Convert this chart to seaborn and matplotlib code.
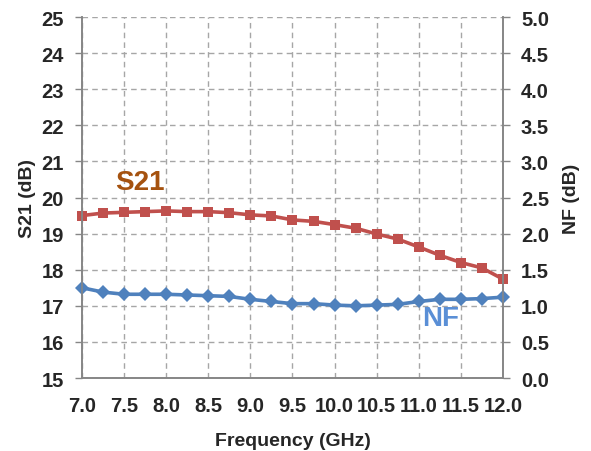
"""S21 and noise figure vs frequency, twin y axes."""

import matplotlib
matplotlib.use("Agg")
import matplotlib.pyplot as plt
import numpy as np
import pandas as pd
import seaborn as sns

# data
freq_ghz = [7.0, 7.25, 7.5, 7.75, 8.0, 8.25, 8.5, 8.75, 9.0, 9.25, 9.5,
            9.75, 10.0, 10.25, 10.5, 10.75, 11.0, 11.25, 11.5, 11.75, 12.0]
s21_db = [19.50, 19.57, 19.59, 19.61, 19.63, 19.61, 19.61, 19.58, 19.52, 19.49, 19.38,
          19.34, 19.25, 19.15, 18.99, 18.85, 18.63, 18.40, 18.20, 18.05, 17.74]
nf_db = [1.25, 1.19, 1.16, 1.16, 1.16, 1.15, 1.14, 1.13, 1.09, 1.06, 1.03,
         1.03, 1.01, 1.00, 1.01, 1.02, 1.06, 1.09, 1.09, 1.10, 1.12]

x_ticks = np.arange(7.0, 12.01, 0.5)
s21_ticks = np.arange(15, 26, 1)
nf_ticks = np.arange(0.0, 5.01, 0.5)

S21_COLOR = "#C0504D"
NF_COLOR = "#4F81BD"
AXIS_GRAY = "#868686"

sns.set_style("white")
plt.rcParams["font.family"] = ["Liberation Sans", "DejaVu Sans"]
plt.rcParams["font.weight"] = "bold"

df = pd.DataFrame({"freq": freq_ghz, "s21": s21_db, "nf": nf_db})

fig = plt.figure(figsize=(5.91, 4.52), dpi=100)
ax = fig.add_axes([0.1387, 0.1615, 0.851 - 0.1387, 0.960 - 0.1615])
ax2 = ax.twinx()

sns.lineplot(data=df, x="freq", y="s21", ax=ax, color=S21_COLOR, lw=2.6,
             marker="s", markersize=7.5, markeredgewidth=0, clip_on=False)
sns.lineplot(data=df, x="freq", y="nf", ax=ax2, color=NF_COLOR, lw=2.6,
             marker="D", markersize=7, markeredgewidth=0, clip_on=False)

ax.set_xlim(7.0, 12.0)
ax.set_ylim(15, 25)
ax2.set_ylim(0, 5)
ax.set_xticks(x_ticks)
ax.set_xticklabels([f"{v:.1f}" for v in x_ticks])
ax.set_yticks(s21_ticks)
ax2.set_yticks(nf_ticks)
ax2.set_yticklabels([f"{v:.1f}" for v in nf_ticks])

ax.grid(True, color="#A6A6A6", linestyle=(0, (4, 3)), linewidth=1.0)
ax.set_axisbelow(True)

for a in (ax, ax2):
    for side in ("left", "right", "bottom"):
        a.spines[side].set_color(AXIS_GRAY)
        a.spines[side].set_linewidth(1.2)
    a.spines["top"].set_visible(False)
    a.tick_params(length=5, width=1.0, color=AXIS_GRAY, labelsize=14.5,
                  direction="out", pad=8)

ax.set_xlabel("Frequency (GHz)", fontsize=14, fontweight="bold", labelpad=12)
ax.set_ylabel("S21 (dB)", fontsize=14, fontweight="bold", labelpad=4)
ax2.set_ylabel("NF (dB)", fontsize=14, fontweight="bold", labelpad=10)

ax.text(7.69, 20.42, "S21", color="#A5520F", fontsize=20, fontweight="bold",
        ha="center", va="center")
ax2.text(11.26, 0.83, "NF", color="#5A8FD6", fontsize=20, fontweight="bold",
         ha="center", va="center")

fig.savefig("out.png", dpi=100)
